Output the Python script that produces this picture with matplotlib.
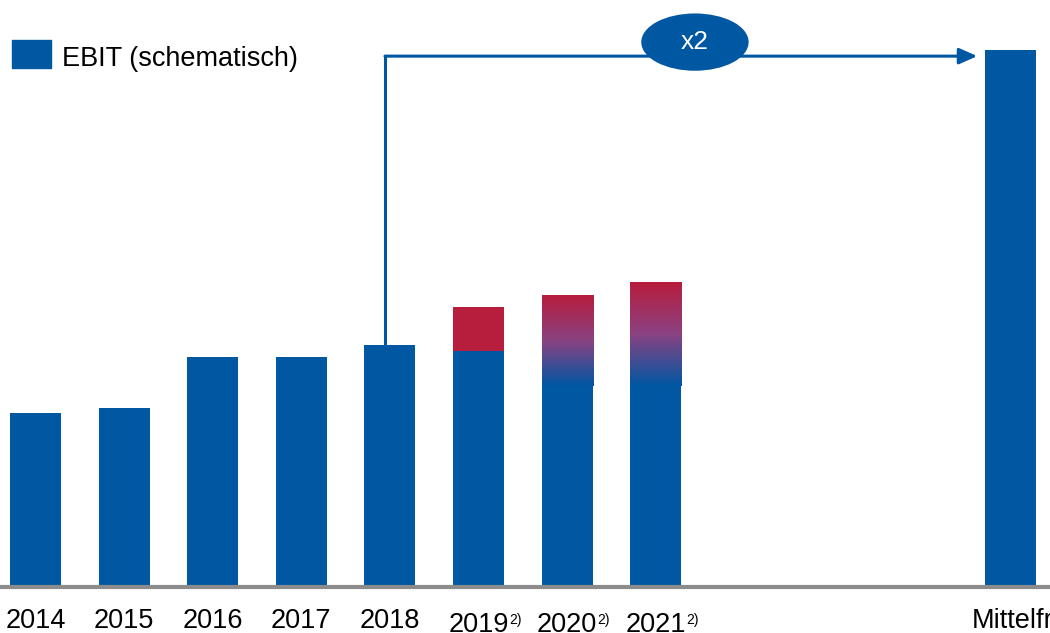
import numpy as np
import matplotlib.pyplot as plt
from matplotlib.patches import Ellipse, Rectangle
from matplotlib.colors import LinearSegmentedColormap
from matplotlib.transforms import blended_transform_factory

# EBIT index (2018 = 100), schematic
years = ["2014", "2015", "2016", "2017", "2018", "2019", "2020", "2021"]
ebit_base = [72, 74, 95, 95, 100, 97.5, 83, 83]
ebit_upside = [0, 0, 0, 0, 0, 115.7, 120.2, 125.6]   # top of the red / gradient range
footnote = [False, False, False, False, False, True, True, True]
target_label = "Mittelfristig"
target_value = 222
factor_label = "x2"

BLUE = "#0057a2"
RED = "#b71d3d"
GREY = "#8c8c8c"
FONT = ["Liberation Sans", "DejaVu Sans"]

fig = plt.figure(figsize=(10.5, 6.33), dpi=100)
ax = fig.add_axes([0, 46 / 633, 1, 587 / 633])
ax.axis("off")

width = 0.576
xs = np.arange(len(years))
target_x = 11

ax.bar(xs, ebit_base, width=width, color=BLUE, zorder=2)
ax.bar([target_x], [target_value], width=width, color=BLUE, zorder=2)

# upside ranges: solid red for 2019, red-to-blue fade afterwards
fade = LinearSegmentedColormap.from_list(
    "fade", [(0, BLUE), (0.5, "#8a4282"), (1, RED)], N=256)
for i, (base, top) in enumerate(zip(ebit_base, ebit_upside)):
    if top <= base:
        continue
    if years[i] == "2019":
        ax.bar(xs[i], top - base, bottom=base, width=width, color=RED, zorder=2)
    else:
        grad = np.linspace(0, 1, 256).reshape(-1, 1)
        ax.imshow(grad, cmap=fade, origin="lower", aspect="auto", zorder=2,
                  extent=[xs[i] - width / 2, xs[i] + width / 2, base, top])
ax.set_xlim(-0.40, 11.45)
ax.set_ylim(0, 242.6)

# baseline
ax.axhline(0, color=GREY, lw=3, zorder=3, clip_on=False)

# bracket arrow from 2018 to the medium-term target
arrow_y = 219.4
ax.plot([3.945, 3.945], [ebit_base[4], arrow_y], color=BLUE, lw=2.2,
        solid_capstyle="projecting", zorder=3)
ax.annotate("", xy=(10.63, arrow_y), xytext=(3.945, arrow_y),
            arrowprops=dict(arrowstyle="-|>,head_length=0.5,head_width=0.22",
                            mutation_scale=22, lw=2.2, color=BLUE,
                            shrinkA=0, shrinkB=0), zorder=3)
ax.add_patch(Ellipse((7.443, 225.2), 1.196, 23.1, color=BLUE, zorder=4))
ax.text(7.443, 225.2, factor_label, color="white", fontsize=19,
        family=FONT, ha="center", va="center", zorder=5)

# x labels
lab_tf = blended_transform_factory(ax.transData, fig.transFigure)
for x, yr, fn in zip(xs, years, footnote):
    base_px = 632 if fn else 628
    t = ax.text(x, 1 - base_px / 633, yr, transform=lab_tf, fontsize=19.5,
                family=FONT, ha="center", va="baseline", clip_on=False)
    if fn:
        ax.annotate("2)", xy=(1.0, 1 - 624 / 633), xycoords=(t, "figure fraction"),
                    xytext=(0.3, 0), textcoords="offset points",
                    fontsize=10, family=FONT, ha="left", va="baseline")
ax.text((972 - 35.5) / 88.6, 1 - 628 / 633, target_label, transform=lab_tf,
        fontsize=19.5, family=FONT, ha="left", va="baseline", clip_on=False)

# legend
fig.patches.append(Rectangle((12 / 1050, 1 - 68 / 633), 39 / 1050, 28 / 633,
                             transform=fig.transFigure, color=BLUE))
fig.text(62 / 1050, 1 - 66 / 633, "EBIT (schematisch)", fontsize=19.5,
         family=FONT, va="baseline", ha="left")

fig.savefig("out.png", dpi=100)
